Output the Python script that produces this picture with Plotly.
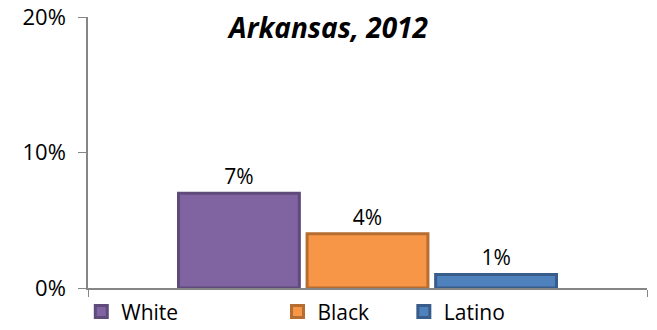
import plotly.graph_objects as go

categories = ["Arkansas"]
groups = ["White", "Black", "Latino"]
values = [7, 4, 1]
labels = ["7%", "4%", "1%"]
fills = ["#8064A2", "#F79646", "#4F81BD"]
edges = ["#5F4B7B", "#B66D31", "#385D8A"]
y_ticks = [0, 10, 20]
y_tick_text = ["0%", "10%", "20%"]
title_text = "Arkansas, 2012"

FONT = "Open Sans"
fig = go.Figure()
legend_names = ["legend", "legend2", "legend3"]
legend_x = [-0.012, 0.339, 0.565]
for i, g in enumerate(groups):
    fig.add_trace(go.Bar(
        x=categories, y=[values[i]], name=g,
        text=[labels[i]], textposition="outside",
        textfont=dict(size=21, color="#000000", family=FONT),
        marker=dict(color=fills[i], line=dict(color=edges[i], width=3)),
        legend=legend_names[i], cliponaxis=False,
    ))

leg_common = dict(orientation="h", yref="container", yanchor="middle", y=0.055,
                  xanchor="left",
                  font=dict(size=21, family=FONT, color="#000000"),
                  bgcolor="rgba(0,0,0,0)", itemwidth=30)
layout_legends = {}
for name, lx in zip(legend_names, legend_x):
    layout_legends[name] = dict(leg_common, x=lx)

fig.update_layout(
    width=657, height=330,
    margin=dict(l=88, r=10, t=17, b=42, autoexpand=False),
    paper_bgcolor="white", plot_bgcolor="white",
    barmode="group", bargap=0.31, bargroupgap=0.06,
    showlegend=True,
    title=dict(text=title_text, x=0.5, xanchor="center", yref="container", y=0.915,
               yanchor="middle",
               font=dict(size=28, family=FONT, color="#000000", weight="bold", style="italic")),
    xaxis=dict(showticklabels=False, showline=True, linecolor="#868686", linewidth=1.5,
               ticks="outside", tickson="boundaries", ticklen=7, tickcolor="#868686",
               showgrid=False, zeroline=False, automargin=False),
    yaxis=dict(range=[0, 20], tickvals=y_ticks, ticktext=y_tick_text, showline=True,
               linecolor="#868686", linewidth=1.5, ticks="outside", ticklen=8,
               tickcolor="#868686", showgrid=False, zeroline=False, automargin=False,
               ticklabelstandoff=8,
               tickfont=dict(size=22, family=FONT, color="#000000")),
    **layout_legends,
)

fig.write_html("out.html", config={"displayModeBar": False},
               post_script="document.body.style.margin='0';")
